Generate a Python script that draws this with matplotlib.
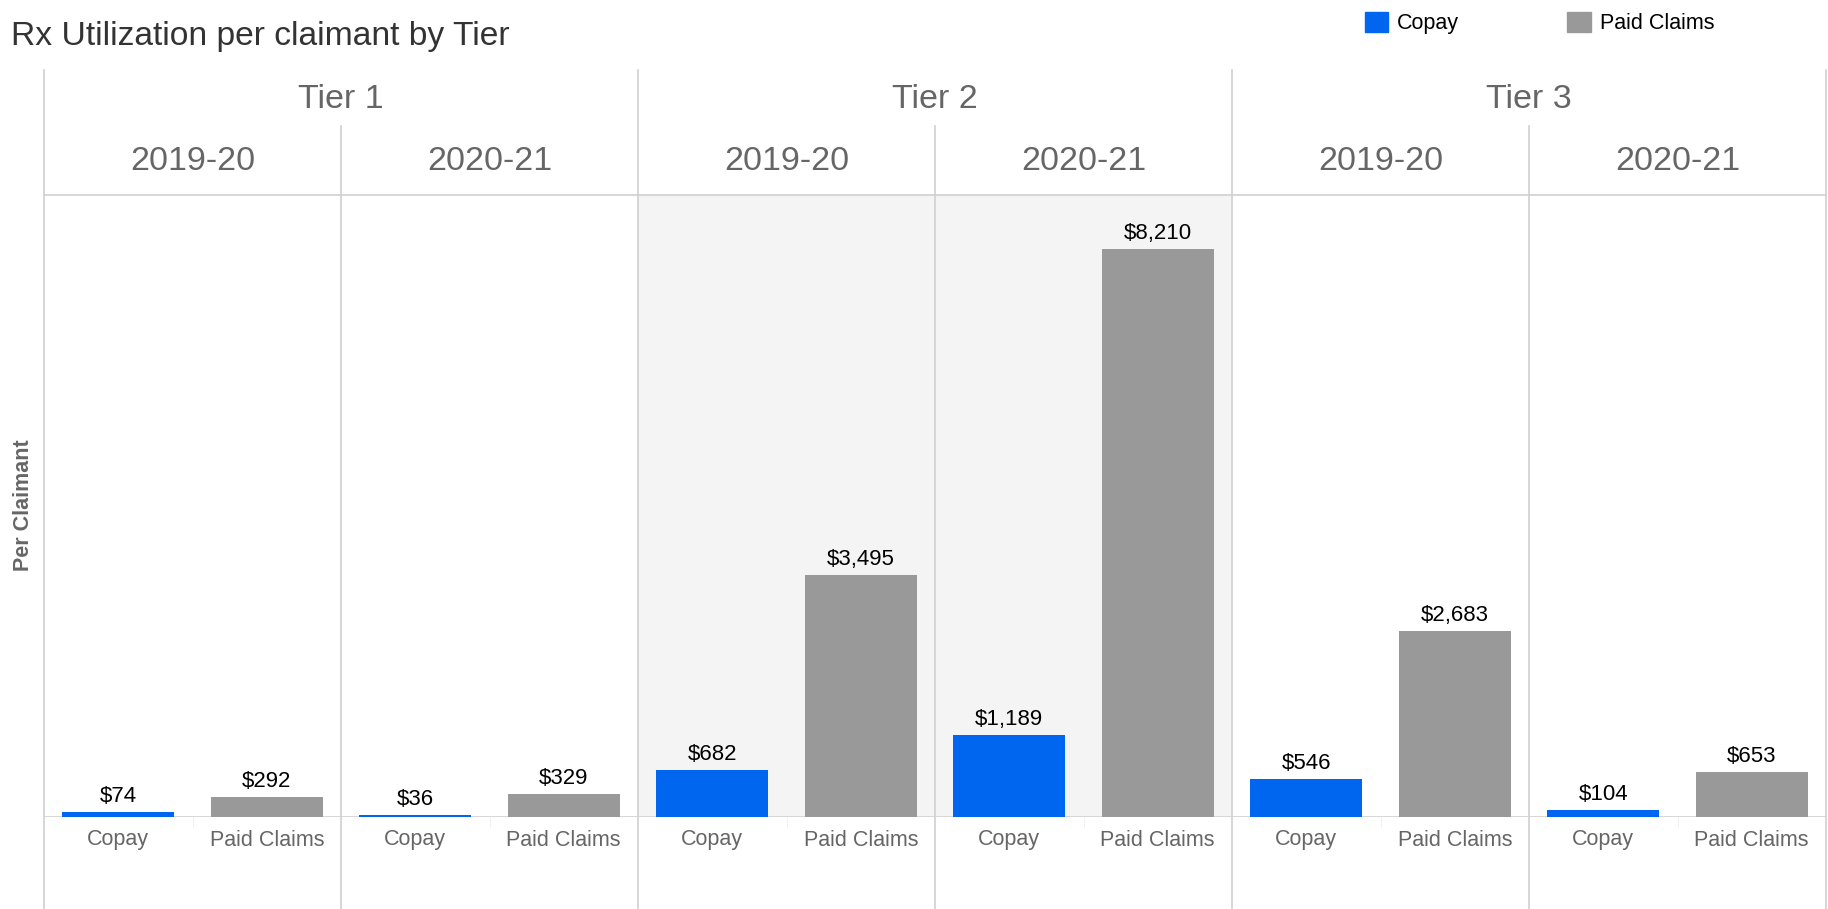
import matplotlib.pyplot as plt
from matplotlib.lines import Line2D
from matplotlib.patches import Patch

# --- data ---
tiers = ["Tier 1", "Tier 2", "Tier 3"]
years = ["2019-20", "2020-21"]
categories = ["Copay", "Paid Claims"]
copay = [74, 36, 682, 1189, 546, 104]
paid_claims = [292, 329, 3495, 8210, 2683, 653]

BLUE = "#0066f0"
GRAY = "#999999"
LINE = "#d0d0d0"
HEAD = "#666666"

plt.rcParams["font.family"] = ["Liberation Sans", "DejaVu Sans"]

W, H = 1828, 909
fig = plt.figure(figsize=(W / 100, H / 100), dpi=100)

left, right = 44 / W, 1826 / W
bottom, top = (H - 817) / H, (H - 195) / H
pw = (right - left) / 6

axes = []
for i in range(6):
    ax = fig.add_axes([left + i * pw, bottom, pw, top - bottom])
    axes.append(ax)
    vals = [copay[i], paid_claims[i]]
    bars = ax.bar([0, 1], vals, width=0.756, color=[BLUE, GRAY])
    ax.bar_label(bars, labels=[f"${v:,}" for v in vals], padding=3.5,
                 fontsize=16, color="black")
    ax.set_xlim(-0.5, 1.5)
    ax.set_ylim(0, 8985)
    ax.set_yticks([])
    ax.set_xticks([0, 1])
    ax.set_xticklabels(categories, fontsize=15.5, color=HEAD)
    ax.set_xticks([0.5], minor=True)
    ax.tick_params(axis="x", which="major", length=0, pad=9)
    ax.tick_params(axis="x", which="minor", length=7, color="#eeeeee")
    for s in ["left", "right", "bottom"]:
        ax.spines[s].set_visible(False)
    ax.spines["top"].set_color(LINE)
    ax.spines["top"].set_linewidth(1.2)
    ax.axhline(0, color=LINE, lw=1.2, zorder=0.5)
    if i in (2, 3):
        ax.set_facecolor("#f4f4f4")

# header labels and divider lines
for i in range(7):
    x = left + i * pw
    y_top = (H - 70) / H if i % 2 == 0 else (H - 126) / H
    fig.add_artist(Line2D([x, x], [0, y_top], color=LINE, lw=1.2,
                          transform=fig.transFigure))

for t, name in enumerate(tiers):
    xc = left + (2 * t + 1) * pw
    fig.text(xc, (H - 99) / H, name, ha="center", va="center",
             fontsize=24.5, color=HEAD)
    for k, yr in enumerate(years):
        xc = left + (2 * t + k + 0.5) * pw
        fig.text(xc, (H - 162) / H, yr, ha="center", va="center",
                 fontsize=24.5, color=HEAD)

fig.text(11 / W, (H - 36) / H, "Rx Utilization per claimant by Tier",
         ha="left", va="center", fontsize=24.2, color="#333333")
fig.text(24 / W, (H - 505) / H, "Per Claimant", rotation=90, ha="center",
         va="center", fontsize=15.5, fontweight="bold", color=HEAD)

handles = [Patch(color=BLUE, label="Copay"), Patch(color=GRAY, label="Paid Claims")]
fig.legend(handles=handles, loc="center left", bbox_to_anchor=(1356 / W, (H - 23) / H),
           ncol=2, frameon=False, fontsize=15.5, handlelength=1.1,
           handleheight=1.1, handletextpad=0.42, columnspacing=5.0,
           borderaxespad=0.0)

fig.savefig("out.png", dpi=100)
